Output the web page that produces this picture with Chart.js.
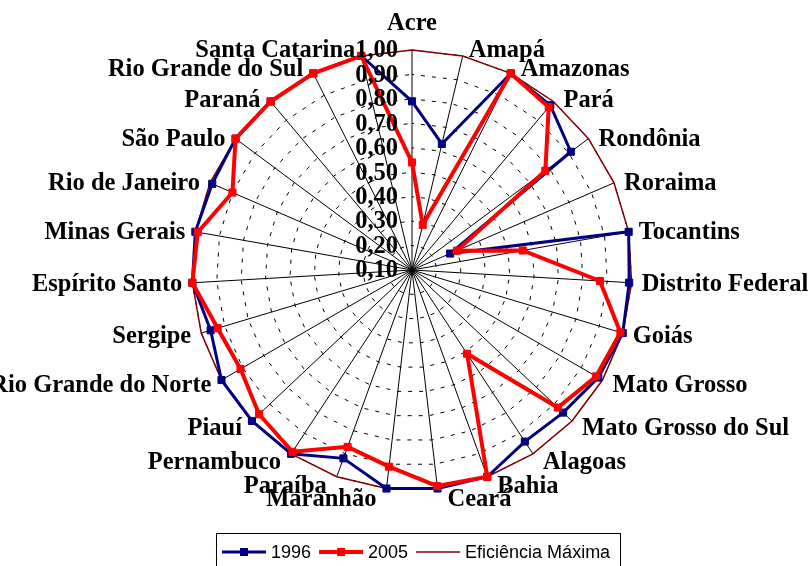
<!DOCTYPE html>
<html>
<head>
<meta charset="utf-8">
<script src="https://cdn.jsdelivr.net/npm/chart.js@4/dist/chart.umd.min.js"></script>
<style>
  html, body { margin: 0; padding: 0; background: #fff; }
  #wrap { position: relative; width: 811px; height: 566px; }
</style>
</head>
<body>
<div id="wrap"><canvas id="chart"></canvas></div>
<script>
// ── Data ─────────────────────────────────────────────────────────────────────
const states = [
  'Acre', 'Amapá', 'Amazonas', 'Pará', 'Rondônia', 'Roraima', 'Tocantins',
  'Distrito Federal', 'Goiás', 'Mato Grosso', 'Mato Grosso do Sul', 'Alagoas',
  'Bahia', 'Ceará', 'Maranhão', 'Paraíba', 'Pernambuco', 'Piauí',
  'Rio Grande do Norte', 'Sergipe', 'Espírito Santo', 'Minas Gerais',
  'Rio de Janeiro', 'São Paulo', 'Paraná', 'Rio Grande do Sul', 'Santa Catarina'
];
const eff1996 = [
  0.79, 0.63, 1.00, 0.98, 0.91, 0.27, 1.00, 0.99, 1.00, 0.98, 0.95, 0.94,
  1.00, 1.00, 1.00, 0.92, 1.00, 1.00, 1.00, 0.96, 1.00, 1.00, 0.99, 1.00,
  1.00, 1.00, 1.00
];
const eff2005 = [
  0.54, 0.29, 1.00, 0.97, 0.78, 0.30, 0.56, 0.87, 0.99, 0.97, 0.92, 0.51,
  1.00, 0.99, 0.91, 0.87, 0.99, 0.96, 0.91, 0.93, 1.00, 0.99, 0.90, 1.00,
  1.00, 1.00, 1.00
];
const effMax = states.map(() => 1.00);
const tickValues = [0.10, 0.20, 0.30, 0.40, 0.50, 0.60, 0.70, 0.80, 0.90, 1.00];
const seriesNames = ['1996', '2005', 'Eficiência Máxima'];

const fmt = v => v.toFixed(2).replace('.', ',');
const LABEL_FONT = 'bold 24.5px "Liberation Serif", "Times New Roman", serif';

// ── Labels, ticks and legend drawn over the chart ────────────────────────────
const overlay = {
  id: 'overlay',
  afterDraw(chart) {
    const { ctx } = chart;
    const r = chart.scales.r;
    ctx.save();
    ctx.fillStyle = '#000';
    ctx.font = LABEL_FONT;

    // tick labels, left of the vertical axis
    ctx.textAlign = 'right';
    ctx.textBaseline = 'middle';
    tickValues.forEach(v => {
      const y = r.yCenter - r.getDistanceFromCenterForValue(v);
      ctx.fillText(fmt(v), r.xCenter - 14, y + 1);
    });

    // state names around the outside
    states.forEach((name, i) => {
      const p = r.getPointPosition(i, r.drawingArea);
      const a = p.angle + Math.PI / 2;
      const s = Math.sin(a), c = Math.cos(a);
      let x = p.x, y = p.y;
      if (Math.abs(s) < 0.05) {
        ctx.textAlign = 'center';
        y += c > 0 ? -26 : 12;
      } else {
        ctx.textAlign = s > 0 ? 'left' : 'right';
        const off = c > 0.95 ? 6 : 10;
        x += s > 0 ? off : -off;
        y += c < 0 ? -c * 10 + 1 : -Math.max(0, c - 0.7) * 22 + 1;
      }
      ctx.textBaseline = 'middle';
      ctx.fillText(name, x, y);
    });

    // legend box
    ctx.strokeStyle = '#000';
    ctx.lineWidth = 1;
    ctx.strokeRect(216.5, 533.5, 404, 40);
    ctx.font = '18px "Liberation Sans", Arial, sans-serif';
    ctx.textAlign = 'left';
    ctx.textBaseline = 'middle';
    let lx = 222;
    const ly = 552;
    chart.data.datasets.forEach(ds => {
      ctx.strokeStyle = ds.borderColor;
      ctx.lineWidth = ds.borderWidth;
      ctx.beginPath();
      ctx.moveTo(lx, ly);
      ctx.lineTo(lx + 44, ly);
      ctx.stroke();
      if (ds.pointRadius > 0) {
        ctx.fillStyle = ds.borderColor;
        ctx.fillRect(lx + 18, ly - 4, 8, 8);
      }
      ctx.fillStyle = '#000';
      ctx.fillText(ds.label, lx + 49, ly + 1);
      lx += 49 + ctx.measureText(ds.label).width + 8;
    });
    ctx.restore();
  }
};

new Chart(document.getElementById('chart'), {
  type: 'radar',
  data: {
    labels: states,
    datasets: [
      {
        label: seriesNames[0],
        data: eff1996,
        borderColor: '#000080',
        backgroundColor: '#000080',
        borderWidth: 3,
        fill: false,
        pointStyle: 'rect',
        pointRadius: 5,
        pointBorderWidth: 1,
        pointBackgroundColor: '#000080',
        pointBorderColor: '#000080',
        order: 1,
      },
      {
        label: seriesNames[1],
        data: eff2005,
        borderColor: '#ff0000',
        backgroundColor: '#ff0000',
        borderWidth: 4,
        fill: false,
        pointStyle: 'rect',
        pointRadius: 5,
        pointBorderWidth: 1,
        pointBackgroundColor: '#ff0000',
        pointBorderColor: '#ff0000',
        order: 0,
      },
      {
        label: seriesNames[2],
        data: effMax,
        borderColor: '#800000',
        borderWidth: 1.5,
        fill: false,
        pointRadius: 0,
        order: 2,
      }
    ]
  },
  options: {
    responsive: true,
    maintainAspectRatio: false,
    animation: false,
    layout: { padding: { left: 192, right: 179, top: 50, bottom: 76 } },
    elements: { line: { tension: 0 } },
    plugins: { legend: { display: false }, tooltip: { enabled: false } },
    scales: {
      r: {
        min: 0.1,
        max: 1.0,
        afterBuildTicks: scale => {
          scale.ticks = tickValues.map(v => ({ value: v }));
        },
        ticks: { display: false },
        pointLabels: { display: false },
        angleLines: { color: '#000', lineWidth: 1 },
        grid: { color: '#000', lineWidth: 1, circular: false },
        border: { dash: [4, 7], dashOffset: 2 },
      }
    }
  },
  plugins: [overlay]
});
</script>
</body>
</html>
